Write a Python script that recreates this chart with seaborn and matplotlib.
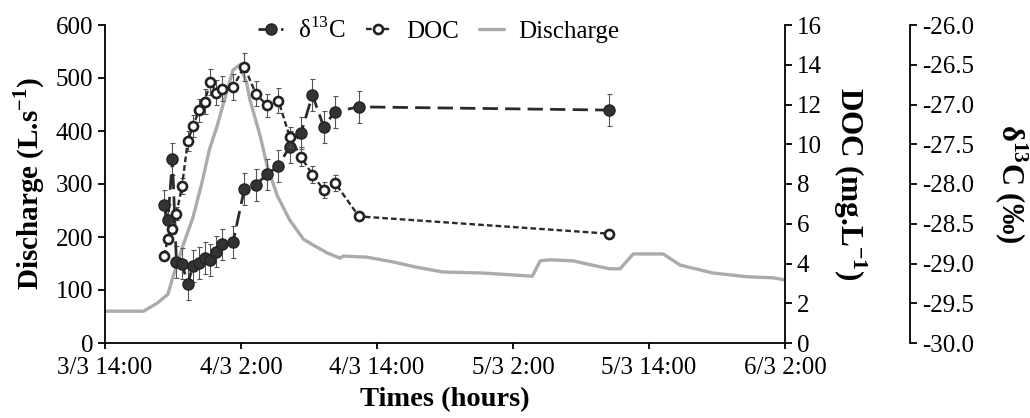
import matplotlib
matplotlib.use("Agg")
import matplotlib.pyplot as plt
import seaborn as sns
from matplotlib.lines import Line2D
from matplotlib.ticker import FormatStrFormatter

# Discharge record, hours after 3/3 14:00
q_hours = [0.0, 3.4, 4.6, 5.55, 6.0, 6.9, 7.75, 8.55, 9.2, 9.9, 10.75, 11.3, 11.9,
           12.5, 12.8, 13.7, 14.3, 15.2, 16.3, 17.5, 18.35, 19.6, 20.75, 21.0,
           23.1, 25.4, 27.5, 29.8, 33.35, 37.7, 38.4, 39.25, 41.3, 43.4, 44.55,
           45.45, 46.6, 49.25, 50.75, 53.65, 56.65, 58.95, 60.0]
q_values = [60, 60, 75, 92, 125, 185, 236, 302, 364, 410, 475, 515, 525,
            490, 458, 390, 335, 278, 232, 196, 185, 170, 160, 164,
            162, 153, 143, 134, 132, 126, 155, 157, 155, 145, 140,
            140, 168, 168, 147, 132, 125, 123, 119]

# Samples
sample_hours = [5.2, 5.55, 5.95, 6.3, 6.8, 7.3, 7.75, 8.3, 8.8, 9.3, 9.8, 10.3,
                11.3, 12.3, 13.3, 14.3, 15.3, 16.3, 17.3, 18.3, 19.3, 20.3, 22.4, 44.5]
d13c = [-28.27, -28.45, -27.69, -28.98, -29.00, -29.26, -29.03, -28.99, -28.93,
        -28.96, -28.85, -28.76, -28.73, -28.06, -28.01, -27.88, -27.77, -27.53,
        -27.36, -26.88, -27.28, -27.09, -27.03, -27.07]
d13c_err = [0.2, 0.2, 0.2, 0.2, 0.2, 0.2, 0.2, 0.2, 0.2, 0.2, 0.2, 0.2,
            0.2, 0.2, 0.2, 0.2, 0.2, 0.2, 0.2, 0.2, 0.2, 0.2, 0.2, 0.2]
doc = [4.40, 5.22, 5.75, 6.50, 7.90, 10.15, 10.9, 11.7, 12.15, 13.15, 12.6, 12.8,
       12.9, 13.9, 12.55, 11.95, 12.2, 10.37, 9.37, 8.47, 7.7, 8.05, 6.37, 5.5]
doc_err = [0.22, 0.26, 0.29, 0.33, 0.40, 0.51, 0.55, 0.59, 0.61, 0.66, 0.63, 0.64,
           0.65, 0.70, 0.63, 0.60, 0.61, 0.52, 0.47, 0.42, 0.39, 0.40, 0.0, 0.0]

x_ticks = [0, 12, 24, 36, 48, 60]
x_labels = ["3/3 14:00", "4/3 2:00", "4/3 14:00", "5/3 2:00", "5/3 14:00", "6/3 2:00"]

sns.set_style("ticks")
plt.rcParams["font.family"] = ["Liberation Serif", "DejaVu Serif"]
plt.rcParams["mathtext.fontset"] = "custom"
plt.rcParams["mathtext.rm"] = "Liberation Serif"
plt.rcParams["mathtext.bf"] = "Liberation Serif:bold"
plt.rcParams["axes.unicode_minus"] = False
plt.rcParams["text.color"] = "black"
plt.rcParams["axes.labelcolor"] = "black"

fig = plt.figure(figsize=(10.3, 4.18), dpi=100)
ax = fig.add_axes([105 / 1030, 1 - 343 / 418, 680 / 1030, 318 / 418])
ax3 = ax.twinx()   # d13C
ax2 = ax.twinx()   # DOC, drawn on top

grey = "#ababab"
dark = "#2b2b2b"

sns.lineplot(x=q_hours, y=q_values, ax=ax, color=grey, linewidth=2.4)

ax3.errorbar(sample_hours, d13c, yerr=d13c_err, fmt="none", ecolor="#555555",
             elinewidth=0.8, capsize=1.8, capthick=0.8)
sns.lineplot(x=sample_hours, y=d13c, ax=ax3, color=dark, linewidth=2.0,
             linestyle=(0, (5.5, 2.6)), marker="o", markersize=8,
             markerfacecolor="#333333", markeredgecolor="#222222",
             markeredgewidth=1.0, sort=False)

ax2.errorbar(sample_hours, doc, yerr=doc_err, fmt="none", ecolor="#555555",
             elinewidth=0.8, capsize=1.8, capthick=0.8)
sns.lineplot(x=sample_hours, y=doc, ax=ax2, color=dark, linewidth=1.7,
             linestyle=(0, (2.4, 1.3)), marker="o", markersize=6.5,
             markerfacecolor="white", markeredgecolor="#222222",
             markeredgewidth=1.9, sort=False)

# axes ranges and ticks
ax.set_xlim(0, 60)
ax.set_ylim(0, 600)
ax.set_yticks(range(0, 601, 100))
ax.set_xticks(x_ticks)
ax.set_xticklabels(x_labels)
ax2.set_ylim(0, 16)
ax2.set_yticks(range(0, 17, 2))
ax3.set_ylim(-30, -26)
ax3.set_yticks([-30, -29.5, -29, -28.5, -28, -27.5, -27, -26.5, -26])
ax3.yaxis.set_major_formatter(FormatStrFormatter("%.1f"))

for a in (ax, ax2, ax3):
    for s in a.spines.values():
        s.set_linewidth(1.3)
        s.set_color("black")
    a.tick_params(labelsize=18, width=1.3, length=5, colors="black")
    a.spines["top"].set_visible(False)

ax.spines["right"].set_visible(False)
ax.tick_params(axis="x", direction="out", length=4, pad=6)
ax2.spines["left"].set_visible(False)
ax2.spines["bottom"].set_visible(False)
ax3.spines["left"].set_visible(False)
ax3.spines["bottom"].set_visible(False)
ax3.spines["right"].set_position(("axes", 805 / 680))

ax.set_xlabel("Times (hours)", fontsize=20.5, fontweight="bold", labelpad=6)
ax.set_ylabel(r"Discharge (L.s$^{\mathbf{-1}}$)", fontsize=21, fontweight="bold", labelpad=6)
ax2.set_ylabel(r"DOC (mg.L$^{\mathbf{-1}}$)", fontsize=22.5, fontweight="bold",
               rotation=270, labelpad=34)
ax3.set_ylabel(r"δ$^{\mathbf{13}}$C (‰)", fontsize=22, fontweight="bold",
               rotation=270, labelpad=40)

handles = [
    Line2D([], [], color=dark, linewidth=2.0, linestyle=(0, (5.5, 2.6)), marker="o",
           markersize=8, markerfacecolor="#333333", markeredgecolor="#222222"),
    Line2D([], [], color=dark, linewidth=1.7, linestyle=(0, (2.4, 1.3)), marker="o",
           markersize=6.5, markerfacecolor="white", markeredgecolor="#222222",
           markeredgewidth=1.9),
    Line2D([], [], color=grey, linewidth=2.4),
]
fig.legend(handles, [r"δ$^{13}$C", "DOC", "Discharge"], loc="center",
           bbox_to_anchor=(439 / 1030, 1 - 30 / 418), ncol=3, frameon=False,
           fontsize=18, handlelength=1.0, handletextpad=0.6, columnspacing=0.8,
           borderpad=0.1)

fig.savefig("out.png", dpi=100)
